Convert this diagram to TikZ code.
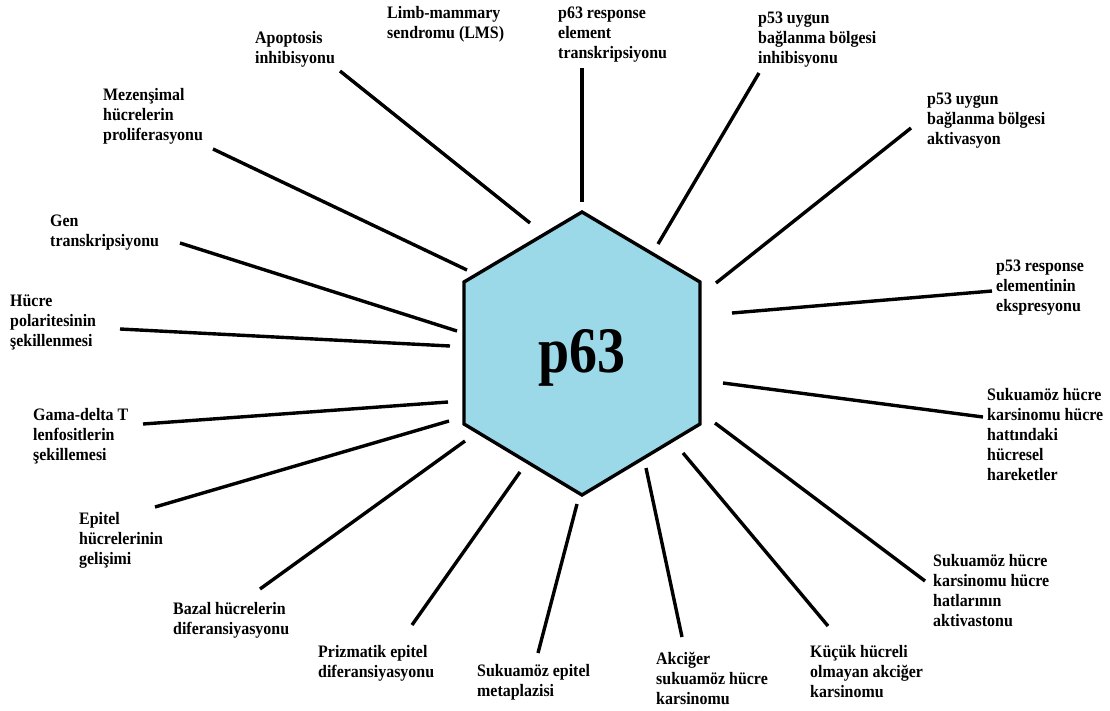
\documentclass[tikz,border=0pt]{standalone}
\usepackage{fontspec}
\setmainfont{Liberation Serif}[FakeStretch=0.86]
\newfontfamily\lblfont{Liberation Serif}[FakeStretch=0.91]
\definecolor{hexblue}{RGB}{155,216,232}
\newcommand{\firststrut}{\rule{0pt}{14pt}}
\begin{document}
\begin{tikzpicture}[x=1pt,y=-1pt,
  lbl/.style={font=\lblfont\bfseries\fontsize{17.5}{20}\selectfont, align=left, anchor=north west, inner sep=0pt},
  ray/.style={line width=3.4pt},
  hexface/.style={fill=hexblue, draw=black, line width=3.4pt, line join=miter},
  centertext/.style={font=\bfseries\fontsize{65}{70}\selectfont, anchor=base, inner sep=0pt}]
\useasboundingbox (0,0) rectangle (1110,710);

% hexagon
\coordinate (ht) at (582,212);
\coordinate (hur) at (700,282);
\coordinate (hlr) at (700,424);
\coordinate (hb) at (582,495);
\coordinate (hll) at (464,424);
\coordinate (hul) at (464,282);
\draw[hexface] (ht) -- (hur) -- (hlr) -- (hb) -- (hll) -- (hul) -- cycle;
\node[centertext] (p63) at (582,372) {p63};

% labels
\node[lbl] (apo) at (255,29) {\firststrut Apoptosis\\inhibisyonu};
\node[lbl] (mez) at (103,86) {\firststrut Mezenşimal\\hücrelerin\\proliferasyonu};
\node[lbl] (gen) at (50,212) {\firststrut Gen\\transkripsiyonu};
\node[lbl] (hucre) at (10,292) {\firststrut Hücre\\polaritesinin\\şekillenmesi};
\node[lbl] (gama) at (33,406) {\firststrut Gama-delta T\\lenfositlerin\\şekillemesi};
\node[lbl] (epi) at (79,510) {\firststrut Epitel\\hücrelerinin\\gelişimi};
\node[lbl] (bazal) at (173,600) {\firststrut Bazal hücrelerin\\diferansiyasyonu};
\node[lbl] (priz) at (318,643) {\firststrut Prizmatik epitel\\diferansiyasyonu};
\node[lbl] (sukep) at (477,662) {\firststrut Sukuamöz epitel\\metaplazisi};
\node[lbl] (akc) at (656,650) {\firststrut Akciğer\\sukuamöz hücre\\karsinomu};
\node[lbl] (kucuk) at (810,643) {\firststrut Küçük hücreli\\olmayan akciğer\\karsinomu};
\node[lbl] (sukhat) at (933,552) {\firststrut Sukuamöz hücre\\karsinomu hücre\\hatlarının\\aktivastonu};
\node[lbl] (sukhar) at (987,386) {\firststrut Sukuamöz hücre\\karsinomu hücre\\hattındaki\\hücresel\\hareketler};
\node[lbl] (presp) at (996,257) {\firststrut p53 response\\elementinin\\ekspresyonu};
\node[lbl] (pakt) at (927,90) {\firststrut p53 uygun\\bağlanma bölgesi\\aktivasyon};
\node[lbl] (pinh) at (758,9) {\firststrut p53 uygun\\bağlanma bölgesi\\inhibisyonu};
\node[lbl] (p63resp) at (558,4) {\firststrut p63 response\\element\\transkripsiyonu};
\node[lbl] (limb) at (387,4) {\firststrut Limb-mammary\\sendromu (LMS)};

% rays
\foreach \n/\xa/\ya/\xb/\yb in {
  apo/340/71/530/223,
  mez/213/149/467/270,
  gen/180/243/457/331,
  hucre/120/329/450/346,
  gama/143/424/448/402,
  epi/155/507/449/421,
  bazal/260/589/465/441,
  priz/412/625/520/472,
  sukep/538/653/577/504,
  akc/682/637/646/468,
  kucuk/828/626/683/453,
  sukhat/925/581/715/423,
  sukhar/983/417/723/383,
  presp/992/291/732/313,
  pakt/911/128/716/283,
  pinh/759/73/658/244,
  p63resp/582/68/582/202}{
  \coordinate (\n-out) at (\xa,\ya);
  \coordinate (\n-in) at (\xb,\yb);
  \draw[ray] (\n-out) -- (\n-in);
}
\end{tikzpicture}
\end{document}
